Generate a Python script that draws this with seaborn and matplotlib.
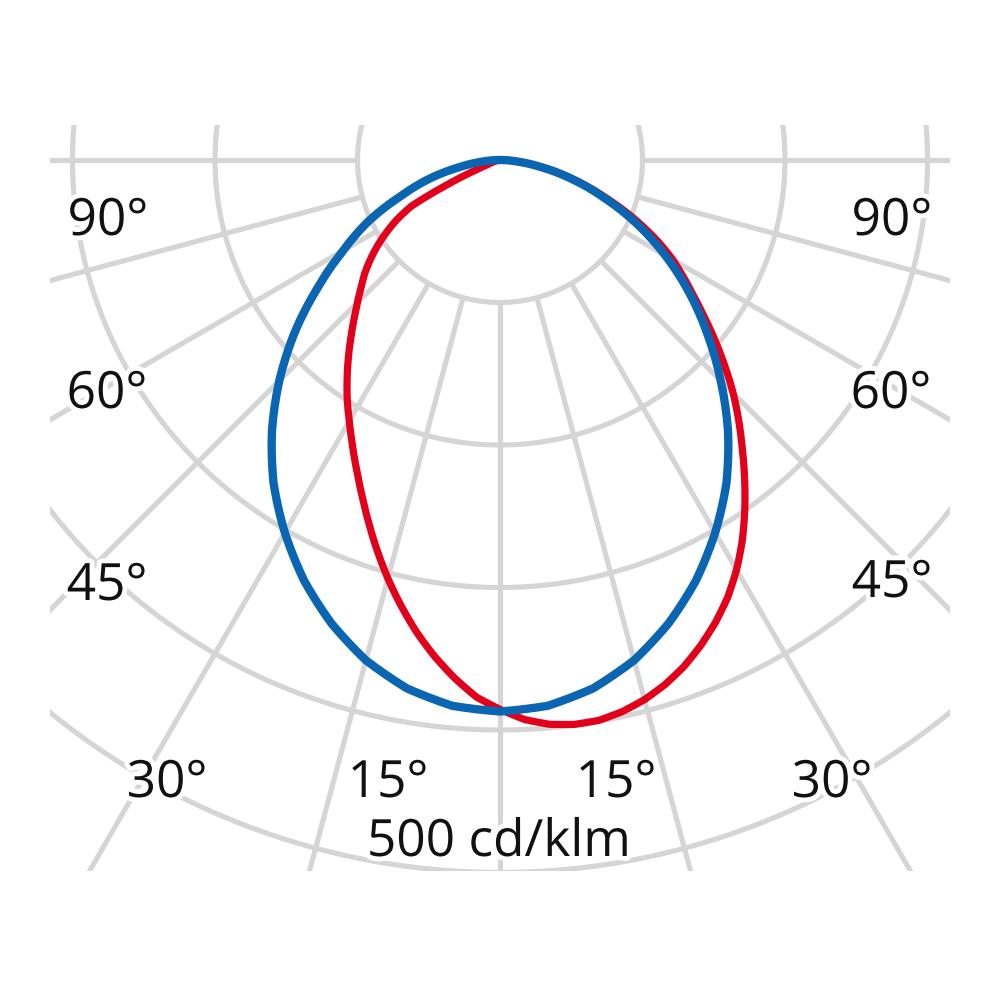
import numpy as np
import matplotlib
matplotlib.use("Agg")
import matplotlib.pyplot as plt
import matplotlib.patheffects as pe
from matplotlib.patches import Rectangle
import pandas as pd
import seaborn as sns

# ---- data (cd/klm, angle in degrees, 0 = straight down, + = right) ----
blue_angles_deg = [-90, -85, -80, -75, -70, -65, -60, -55, -50, -45, -40, -35,
                   -30, -25, -20, -15, -10, -5, 0, 5, 10, 15, 20, 25, 30, 35,
                   40, 45, 50, 55, 60, 65, 70, 75, 80, 85, 90]
blue_cdklm = [0, 12, 29, 52, 74, 102, 127, 156, 188, 219, 249, 277, 302,
              325.5, 346, 363.5, 376.5, 384.5, 387, 384.5, 376.5, 363.5, 346,
              325.5, 302, 277, 249, 219, 190, 162, 134, 106, 78, 53, 30,
              12, 0]
red_angles_deg = [-90, -85, -80, -75, -70, -67.5, -65, -62.5, -60, -57.5, -55,
                  -52.5, -50, -47.5, -45, -42.5, -40, -37.5, -35, -32.5, -30,
                  -27.5, -25, -22.5, -20, -17.5, -15, -12.5, -10, -7.5, -5,
                  -2.5, 0, 2.5, 5, 7.5, 10, 12.5, 15, 17.5, 20, 22.5, 25,
                  27.5, 30, 32.5, 35, 37.5, 40, 42.5, 45, 47.5, 50, 52.5, 55,
                  57.5, 60, 62.5, 65, 67.5, 70, 72.5, 75, 77.5, 80, 82.5, 85,
                  87.5, 90]
red_cdklm = [0, 1, 2, 4, 8, 18, 40, 70, 83.5, 94.5, 105,
             114.7, 124, 132, 141.5, 151.6, 162.8, 174.8, 187, 199.5, 211.5,
             224.5, 238.6, 253.7, 270, 287, 304, 320.5, 336.6, 351.4, 365,
             377.3, 385.5, 393, 397.5, 399.5, 399.3, 396.5, 392, 385.8, 378,
             368.5, 357.9, 346, 332, 316.5, 299.5, 282, 264.5, 248,
             231.4, 214, 197, 180.5, 165.5, 152.5, 140, 126, 111, 96, 81, 67.5,
             55, 43, 31.5, 21, 13, 6, 0]
grid_radii = [100, 200, 300, 400, 500, 600]
grid_angles = list(range(-90, 91, 15))
scale_label = "500 cd/klm"
left_labels = ["90°", "60°", "45°", "30°", "15°"]
right_labels = ["90°", "60°", "45°", "30°", "15°"]

BLUE = "#0a66b2"
RED = "#e2001a"
GRID = "#d5d5d5"

sns.set_style("white")
plt.rcParams["font.family"] = ["Open Sans", "DejaVu Sans"]

fig = plt.figure(figsize=(10, 10), dpi=100)
fig.patch.set_facecolor("white")

# polar axes centred at pixel (500,160), radius 1000 px
ax = fig.add_axes([-0.5, -0.16, 2.0, 2.0], projection="polar")
ax.set_theta_zero_location("S")
ax.set_theta_direction(1)
rmax = 1000 / 1.425
ax.set_ylim(0, rmax)
ax.set_thetalim(-np.pi, np.pi)
ax.patch.set_visible(False)
ax.spines["polar"].set_visible(False)
ax.grid(False)
ax.set_xticks([])
ax.set_yticks([])

clip = Rectangle((0.05, 0.129), 0.90, 0.746, transform=fig.transFigure)

# grid circles
th_full = np.linspace(-np.pi, np.pi, 1441)
for r in grid_radii:
    ln, = ax.plot(th_full, np.full_like(th_full, r), color=GRID, lw=3.7,
                  solid_capstyle="butt", zorder=1)
    ln.set_clip_path(clip)
# radial lines
for a in grid_angles:
    t = np.deg2rad(a)
    ln, = ax.plot([t, t], [grid_radii[0], rmax], color=GRID, lw=3.7,
                  solid_capstyle="butt", zorder=1)
    ln.set_clip_path(clip)

n_before = len(ax.lines)
df_red = pd.DataFrame({"theta": np.deg2rad(red_angles_deg), "r": red_cdklm})
df_blue = pd.DataFrame({"theta": np.deg2rad(blue_angles_deg), "r": blue_cdklm})
sns.lineplot(data=df_red, x="theta", y="r", sort=False, ax=ax, color=RED,
             lw=5.2, zorder=3, estimator=None)
sns.lineplot(data=df_blue, x="theta", y="r", sort=False, ax=ax, color=BLUE,
             lw=6.0, zorder=4, estimator=None)
for ln in ax.lines[n_before:]:
    ln.set_solid_joinstyle("round")
    ln.get_path()._interpolation_steps = 12
ax.set_xlabel("")
ax.set_ylabel("")
ax.set_ylim(0, rmax)
ax.set_xticks([])
ax.set_yticks([])

halo = [pe.withStroke(linewidth=7, foreground="white")]
fs = 37
# label positions (fig pixel coords: x centre, baseline y from top)
left_pos = [(108, 235), (107, 408), (107, 600), (167, 797), (388, 797)]
right_pos = [(892, 235), (891, 408), (892, 597), (832, 797), (616, 797)]
for txt, (x, y) in zip(left_labels, left_pos):
    fig.text(x / 1000, 1 - y / 1000, txt, ha="center", va="baseline",
             fontsize=fs, color="#111111", path_effects=halo, zorder=10)
for txt, (x, y) in zip(right_labels, right_pos):
    fig.text(x / 1000, 1 - y / 1000, txt, ha="center", va="baseline",
             fontsize=fs, color="#111111", path_effects=halo, zorder=10)
fig.text(0.499, 1 - 856 / 1000, scale_label, ha="center", va="baseline",
         fontsize=fs, color="#111111", path_effects=halo, zorder=10)

fig.savefig("out.png", dpi=100, facecolor="white")
